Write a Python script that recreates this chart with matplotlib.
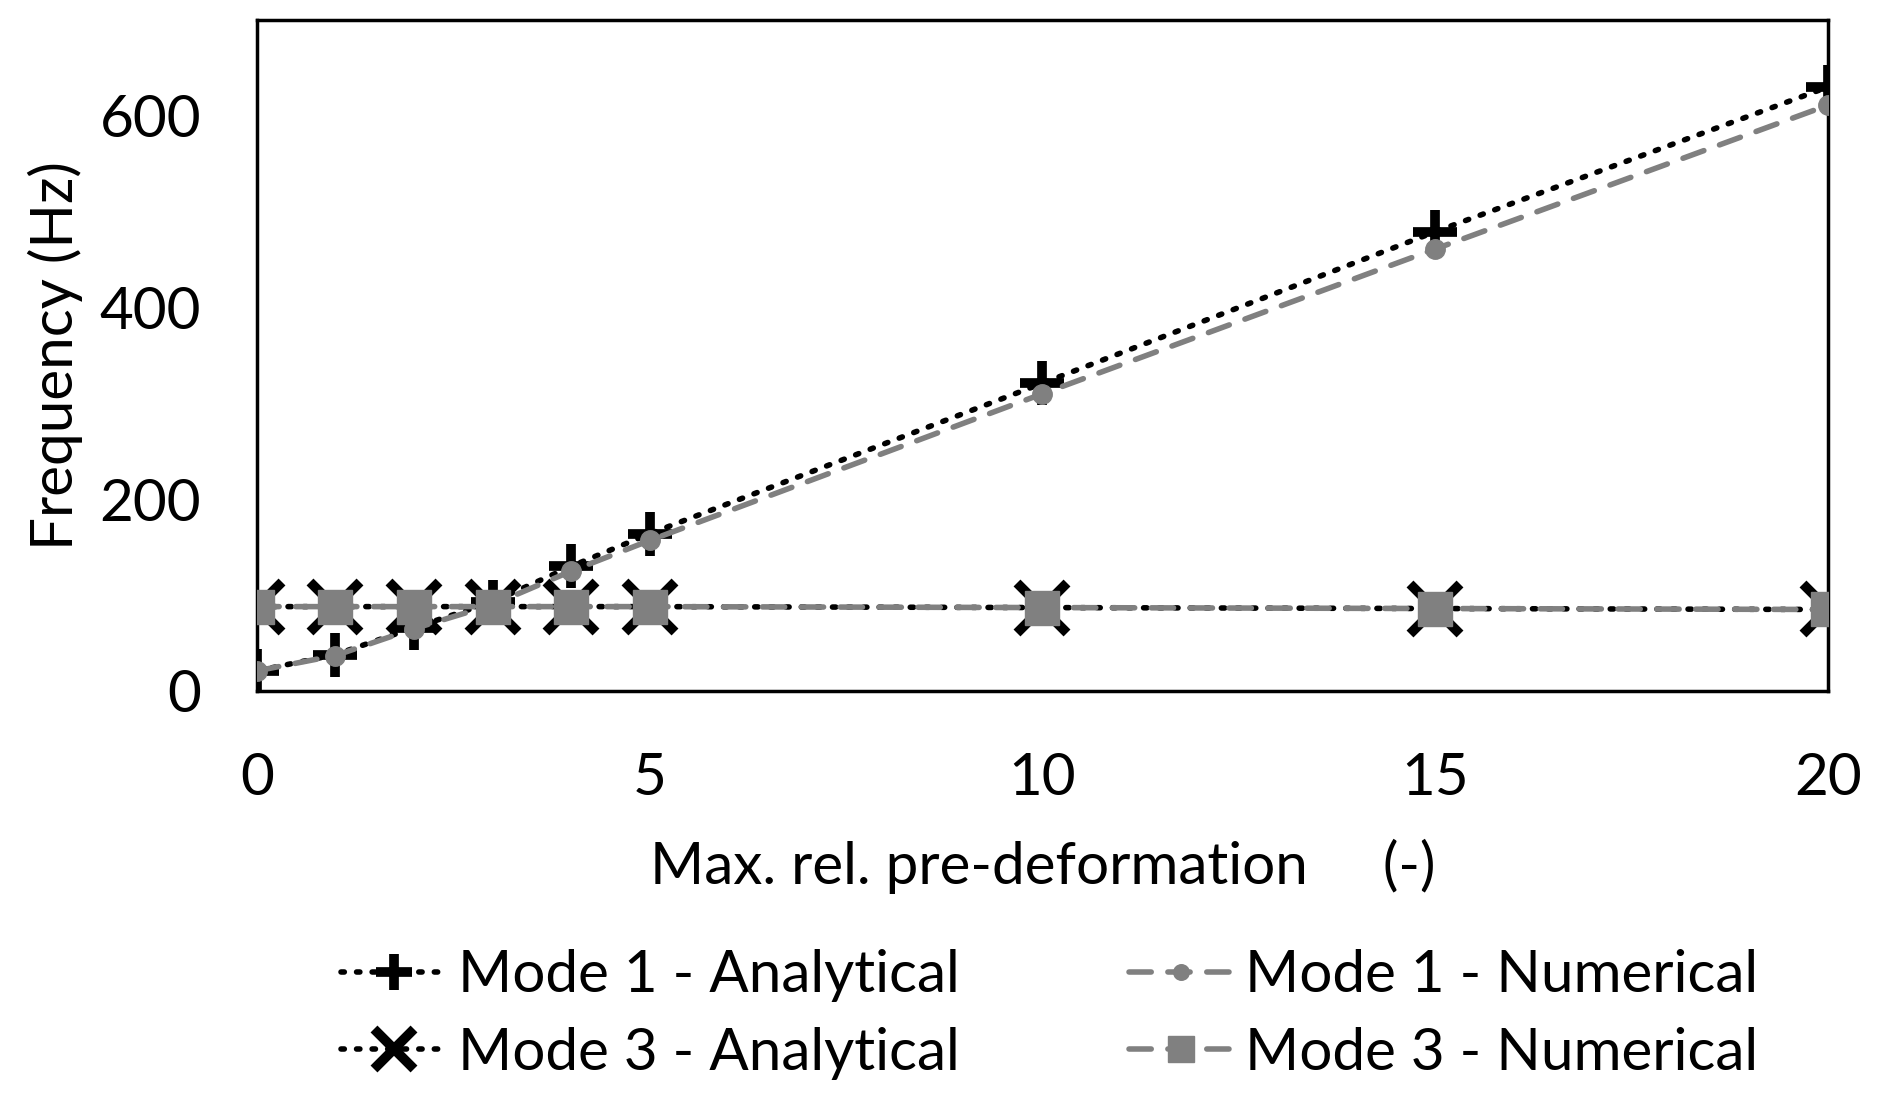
import numpy as np
import matplotlib
matplotlib.use("Agg")
import matplotlib.pyplot as plt

plt.rcParams['font.family'] = ['Lato', 'DejaVu Sans']

# data
x = [0, 1, 2, 3, 4, 5, 10, 15, 20]
mode1_analytical = [21, 38, 66, 93, 130, 164, 321, 479, 630]
mode1_numerical = [21, 37, 65, 90, 125, 157, 310, 461, 611]
mode3_analytical = [88, 88, 88, 88, 88, 88, 87, 86, 85]
mode3_numerical = [88, 88, 88, 88, 88, 88, 87, 86, 85]

xticks = [0, 5, 10, 15, 20]
yticks = [0, 200, 400, 600]

grey = "#808080"
fs = 42

fig = plt.figure(figsize=(18.78, 11.01), dpi=100)
ax = fig.add_axes([0.1368, 0.3724, 0.8366, 0.6096])

l1, = ax.plot(x, mode1_analytical, color="black", linestyle=(0, (0.6, 2.2)),
              linewidth=4, dash_capstyle="round", marker="+", markersize=32,
              markeredgewidth=7, label="Mode 1 - Analytical", zorder=3)
l3, = ax.plot(x, mode3_analytical, color="black", linestyle=(0, (0.6, 2.2)),
              linewidth=4, dash_capstyle="round", marker="x", markersize=36,
              markeredgewidth=7, label="Mode 3 - Analytical", zorder=3)
l2, = ax.plot(x, mode1_numerical, color=grey, linestyle=(0, (4, 3)),
              linewidth=4, dash_capstyle="round", marker="o", markersize=14,
              label="Mode 1 - Numerical", zorder=4)
l4, = ax.plot(x, mode3_numerical, color=grey, linestyle=(0, (4, 3)),
              linewidth=4, dash_capstyle="round", marker="s", markersize=24,
              label="Mode 3 - Numerical", zorder=4)

ax.set_xlim(0, 20)
ax.set_ylim(0, 700)
ax.set_xticks(xticks)
ax.set_yticks(yticks)
ax.tick_params(length=0, labelsize=fs)
ax.tick_params(axis="x", pad=44)
ax.tick_params(axis="y", pad=40)
for s in ax.spines.values():
    s.set_linewidth(2.5)
for t in ax.get_xticklabels():
    t.set_clip_on(False)

ax.set_xlabel("Max. rel. pre-deformation     (-)", fontsize=fs, labelpad=24)
ax.set_ylabel("Frequency (Hz)", fontsize=fs, labelpad=12)

fig.legend(handles=[l1, l3, l2, l4], loc="lower center", ncol=2,
           bbox_to_anchor=(0.559, -0.002), frameon=False, fontsize=fs,
           handlelength=1.8, columnspacing=2.9, labelspacing=0.42,
           handletextpad=0.2, borderaxespad=0.0, markerscale=0.8)

fig.savefig("out.png", dpi=100)
